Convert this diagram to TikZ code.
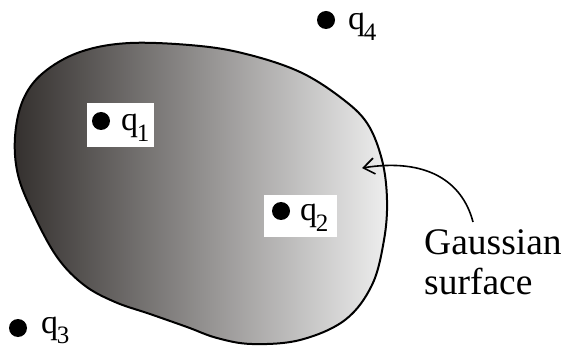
\documentclass[tikz,border=0pt]{standalone}
\usepackage{fontspec}
\setmainfont{Liberation Serif}
\usetikzlibrary{arrows.meta}
\definecolor{blobdark}{RGB}{52,48,46}
\definecolor{bloblight}{RGB}{238,238,238}
\tikzset{
  charge/.style={circle,fill=black,inner sep=0pt,minimum size=18pt},
  qlabel/.style={anchor=base west,inner sep=0pt,font=\fontsize{34}{36}\selectfont},
  qbox/.style={fill=white,inner sep=0pt},
  bodytext/.style={align=left,inner sep=0pt,font=\fontsize{37.5}{40}\selectfont},
}
\newcommand{\qsub}[1]{q\kern-0.04em\raisebox{-0.32em}{\fontsize{25}{25}\selectfont #1}}
\newcommand{\blobpath}{plot[smooth cycle,tension=0.6] coordinates {(130,43) (200,46) (250,55) (300,72) (340,97) (367,123) (382,160) (387,200) (384,240) (372,285) (345,320) (300,340) (252,344) (217,338) (187,327) (150,314) (115,302) (84,285) (57,257) (33,213) (18,175) (15,137) (23,100) (43,73) (80,52)}}
\begin{document}
\begin{tikzpicture}[x=1pt,y=-1pt]
\useasboundingbox (0,0) rectangle (569,352);
% Gaussian surface
\path[left color=blobdark,right color=bloblight] \blobpath;
\draw[line width=2pt] \blobpath;
% white boxes
\node[qbox,minimum width=67pt,minimum height=44pt] (box1) at (120.5,125) {};
\node[qbox,minimum width=73pt,minimum height=42pt] (box2) at (300.5,216) {};
% charges
\node[charge] (c1) at (101,121) {};
\node[qlabel] (l1) at (121,131) {\qsub{1}};
\node[charge] (c2) at (281,211) {};
\node[qlabel] (l2) at (300,221) {\qsub{2}};
\node[charge] (c3) at (18,328) {};
\node[qlabel] (l3) at (41,333) {\qsub{3}};
\node[charge] (c4) at (326,20) {};
\node[qlabel] (l4) at (348,30) {\qsub{4}};
% label and arrow
\node[bodytext,anchor=north west] (gs) at (424,229) {Gaussian\\surface};
\coordinate (tail) at (473,222);
\coordinate (tip) at (362,168);
\draw[line width=1.6pt,-{Straight Barb[length=11pt,width=16pt]}] (tail) .. controls (462,180) and (425,158) .. (tip);
\end{tikzpicture}
\end{document}
